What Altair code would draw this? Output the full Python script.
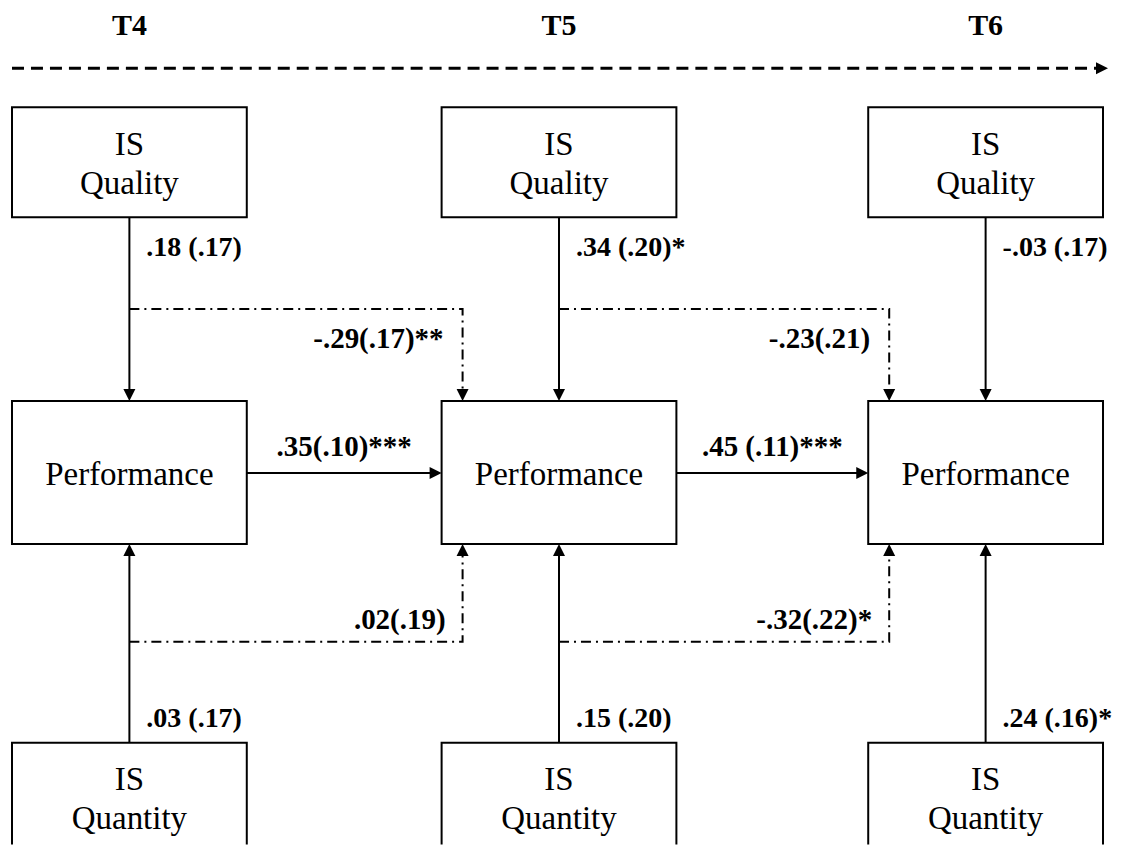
import altair as alt
import pandas as pd

# ---------------- content ----------------
periods = ["T4", "T5", "T6"]
quality_lines = ["IS", "Quality"]
quantity_lines = ["IS", "Quantity"]
performance_name = "Performance"
quality_paths = [".18 (.17)", ".34 (.20)*", "-.03 (.17)"]
quantity_paths = [".03 (.17)", ".15 (.20)", ".24 (.16)*"]
stability_paths = [".35(.10)***", ".45 (.11)***"]
cross_quality_paths = ["-.29(.17)**", "-.23(.21)"]
cross_quantity_paths = [".02(.19)", "-.32(.22)*"]

# ---------------- layout (pixel space of the figure) ----------------
BOX_LEFT = [12, 442, 869]
BOX_W = 235
CENTERS = [l + BOX_W / 2 for l in BOX_LEFT]
QUAL_TOP, QUAL_BOT = 107, 217
PERF_TOP, PERF_BOT = 401, 544
QUAN_TOP, QUAN_BOT = 743, 880
TIME_Y = 68
CROSS_TOP_Y = 309
CROSS_BOT_Y = 642
CROSS_OFF = 21
HORIZ_Y = 473
HEAD = 12

FONT = "Times New Roman, Liberation Serif, Times, DejaVu Serif, serif"
xs = alt.Scale(domain=[8, 1113], nice=False, zero=False)
ys = alt.Scale(domain=[8, 845], nice=False, zero=False, reverse=True)


def X(f="x"):
    return alt.X(f"{f}:Q", scale=xs, axis=None)


def Y(f="y"):
    return alt.Y(f"{f}:Q", scale=ys, axis=None)


def X2(f="x2"):
    return alt.X2(f"{f}:Q")


def Y2(f="y2"):
    return alt.Y2(f"{f}:Q")


# boxes
boxes = []
for l in BOX_LEFT:
    boxes.append(dict(x=l, x2=l + BOX_W, y=QUAL_TOP, y2=QUAL_BOT))
    boxes.append(dict(x=l, x2=l + BOX_W, y=PERF_TOP, y2=PERF_BOT))
    boxes.append(dict(x=l, x2=l + BOX_W, y=QUAN_TOP, y2=QUAN_BOT))
box_layer = alt.Chart(pd.DataFrame(boxes)).mark_rect(
    fill="white", stroke="black", strokeWidth=2, clip=True
).encode(x=X(), x2=X2(), y=Y(), y2=Y2())

# solid arrows (shafts)
solid = []
heads_down, heads_up, heads_right = [], [], []
for c in CENTERS:
    solid.append(dict(x=c, x2=c, y=QUAL_BOT, y2=PERF_TOP - 6))
    heads_down.append(dict(x=c, y=PERF_TOP))
    solid.append(dict(x=c, x2=c, y=QUAN_TOP, y2=PERF_BOT + 6))
    heads_up.append(dict(x=c, y=PERF_BOT))
for i in range(2):
    solid.append(dict(x=BOX_LEFT[i] + BOX_W, x2=BOX_LEFT[i + 1] - 6, y=HORIZ_Y, y2=HORIZ_Y))
    heads_right.append(dict(x=BOX_LEFT[i + 1], y=HORIZ_Y))
solid_layer = alt.Chart(pd.DataFrame(solid)).mark_rule(
    color="black", strokeWidth=2
).encode(x=X(), x2=X2(), y=Y(), y2=Y2())

# dash-dot cross-lagged paths
dd = []
for i in range(2):
    xv = BOX_LEFT[i + 1] + CROSS_OFF
    for k, (yh, yend) in enumerate([(CROSS_TOP_Y, PERF_TOP - 6), (CROSS_BOT_Y, PERF_BOT + 6)]):
        g = f"p{i}{k}"
        dd += [dict(x=CENTERS[i], y=yh, o=0, g=g),
               dict(x=xv, y=yh, o=1, g=g),
               dict(x=xv, y=yend, o=2, g=g)]
    heads_down.append(dict(x=xv, y=PERF_TOP))
    heads_up.append(dict(x=xv, y=PERF_BOT))
dd_layer = alt.Chart(pd.DataFrame(dd)).mark_line(
    color="black", strokeWidth=2, strokeDash=[10, 5, 2, 5]
).encode(x=X(), y=Y(), order="o:Q", detail="g:N")

# time axis dashed arrow
time_layer = alt.Chart(pd.DataFrame([dict(x=12, x2=1098, y=TIME_Y, y2=TIME_Y)])).mark_rule(
    color="black", strokeWidth=3, strokeDash=[12, 7]
).encode(x=X(), x2=X2(), y=Y(), y2=Y2())
heads_right.append(dict(x=1109, y=TIME_Y))


def heads(rows, path):
    return alt.Chart(pd.DataFrame(rows)).mark_point(
        shape=path, filled=True, fill="black", stroke="black", strokeWidth=0,
        opacity=1, size=HEAD * HEAD
    ).encode(x=X(), y=Y())


head_layers = [
    heads(heads_down, "M0,0L-1,-2L1,-2Z"),
    heads(heads_up, "M0,0L-1,2L1,2Z"),
    heads(heads_right, "M0,0L-2,-1L-2,1Z"),
]

# texts
def text_layer(rows, size, bold, align):
    return alt.Chart(pd.DataFrame(rows)).mark_text(
        font=FONT, fontSize=size, fontWeight="bold" if bold else "normal",
        align=align, baseline="alphabetic", color="black"
    ).encode(x=X(), y=Y(), text="t:N")


period_rows = [dict(x=c, y=35, t=p) for c, p in zip(CENTERS, periods)]
box_rows = []
for c in CENTERS:
    box_rows.append(dict(x=c, y=155, t=quality_lines[0]))
    box_rows.append(dict(x=c, y=194, t=quality_lines[1]))
    box_rows.append(dict(x=c, y=485, t=performance_name))
    box_rows.append(dict(x=c, y=790, t=quantity_lines[0]))
    box_rows.append(dict(x=c, y=829, t=quantity_lines[1]))
left_rows = []
for c, q, n in zip(CENTERS, quality_paths, quantity_paths):
    left_rows.append(dict(x=c + 17, y=256, t=q))
    left_rows.append(dict(x=c + 17, y=727, t=n))
right_rows = []
for i in range(2):
    xv = BOX_LEFT[i + 1] + CROSS_OFF
    right_rows.append(dict(x=xv - 19, y=348, t=cross_quality_paths[i]))
    right_rows.append(dict(x=xv - 17, y=629, t=cross_quantity_paths[i]))
center_rows = []
for i in range(2):
    mid = (BOX_LEFT[i] + BOX_W + BOX_LEFT[i + 1]) / 2
    center_rows.append(dict(x=mid, y=456, t=stability_paths[i]))

texts = [
    text_layer(period_rows, 30, True, "center"),
    text_layer(box_rows, 33, False, "center"),
    text_layer(left_rows, 28, True, "left"),
    text_layer(right_rows, 29, True, "right"),
    text_layer(center_rows, 29, True, "center"),
]

chart = alt.layer(
    time_layer, solid_layer, dd_layer, box_layer, *head_layers, *texts
).properties(width=1105, height=837, padding=0, background="white").configure_view(stroke=None)

chart.save("out.html", embed_options={"renderer": "svg", "actions": False})
